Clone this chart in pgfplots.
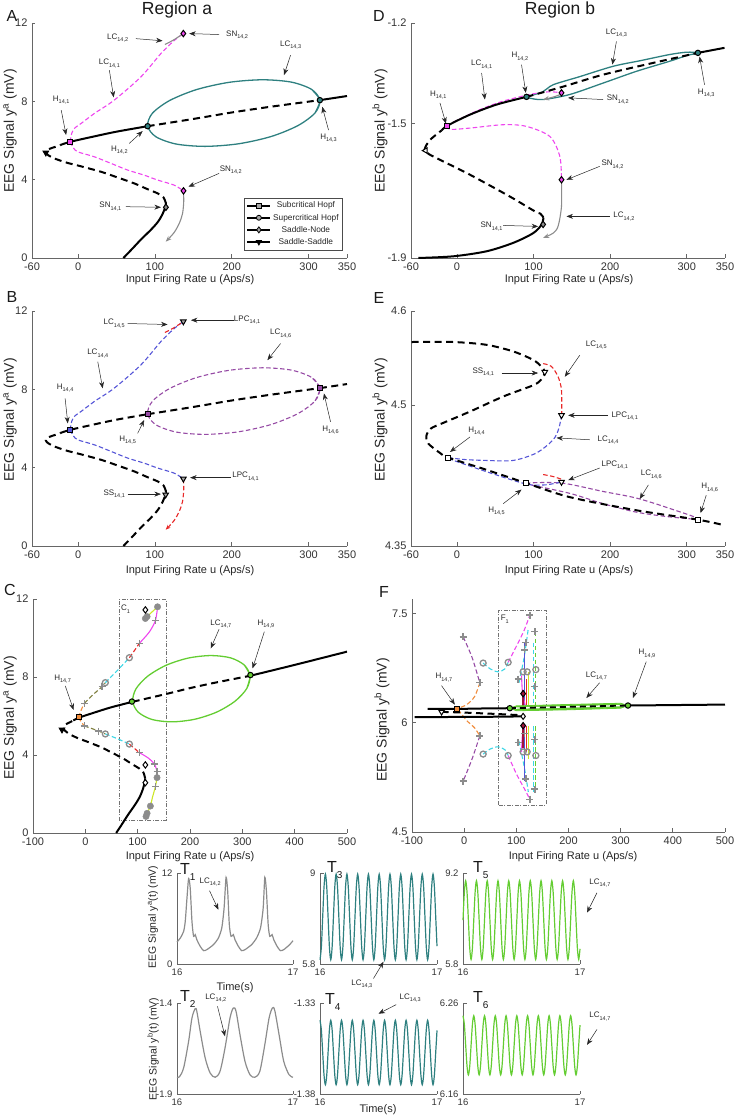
\documentclass[border=0pt]{standalone}
\usepackage{fontspec}
\setmainfont{Liberation Sans}
\usepackage{pgfplots}
\usepackage{pgfplotstable}
\pgfplotsset{compat=1.18}
\usetikzlibrary{arrows.meta}

\definecolor{mag}{RGB}{238,70,238}
\definecolor{tealc}{RGB}{46,128,128}
\definecolor{lgreen}{RGB}{100,205,50}
\definecolor{purp}{RGB}{150,75,165}
\definecolor{blu}{RGB}{85,85,215}
\definecolor{redc}{RGB}{232,40,40}
\definecolor{grayc}{RGB}{140,140,140}
\definecolor{orng}{RGB}{240,140,60}
\definecolor{cyanc}{RGB}{60,215,230}
\definecolor{olivec}{RGB}{125,125,60}
\definecolor{yelc}{RGB}{205,230,40}
\definecolor{dredc}{RGB}{160,20,60}

\tikzset{
  stab/.style={black, line width=2pt, smooth},
  unst/.style={black, line width=2pt, dash pattern=on 7pt off 4.5pt, smooth},
  cd/.style={line width=1.1pt, dash pattern=on 4.5pt off 2.5pt, smooth},
  cs/.style={line width=1.1pt, smooth},
  ann/.style={black!85, line width=0.5pt, -{Stealth[length=6.5pt, width=5pt]}},
  lab/.style={font=\fontsize{8}{9}\selectfont, text=black!85, inner sep=0.5pt},
  cbox/.style={black!55, line width=0.6pt, dash pattern=on 4pt off 1.5pt on 1pt off 1.5pt},
  big/.style={font=\fontsize{16}{16}\selectfont, text=black!90},
  xl/.style={font=\fontsize{11}{13}\selectfont, text=black!85},
  yl/.style={font=\fontsize{14}{15}\selectfont, text=black!85, rotate=90},
}

\newcommand{\lbl}[3]{\node[lab] at (axis cs:#1) {#2\raisebox{-2.4pt}{\fontsize{5.5}{6}\selectfont #3}};}
\newcommand{\arw}[2]{\draw[ann] (axis cs:#1) -- (axis cs:#2);}
\newcommand{\mk}[4]{\addplot[only marks, mark=#1, mark size=#2, mark options={solid, draw=black, fill=#3, line width=1pt}] coordinates {#4};}
\newcommand{\mkt}[3]{\addplot[only marks, mark=triangle*, mark size=3.2pt, mark options={solid, rotate=#1, draw=black, fill=#2, line width=1pt}] coordinates {#3};}
\newcommand{\gplus}[1]{\addplot[only marks, mark=+, mark size=3.5pt, grayc, line width=1.4pt] coordinates {#1};}
\newcommand{\gcirc}[1]{\addplot[only marks, mark=o, mark size=3pt, grayc, line width=1.3pt] coordinates {#1};}
\newcommand{\gdot}[1]{\addplot[only marks, mark=*, mark size=3.2pt, grayc] coordinates {#1};}

\pgfplotsset{
  mat/.style={scale only axis, anchor=south west, axis lines*=left,
    axis line style={black!60, line width=0.7pt, -},
    major tick style={black!60, line width=0.7pt}, tick align=inside, major tick length=3.5pt,
    tick label style={font=\fontsize{11}{12}\selectfont, text=black!80},
    xticklabel style={yshift=-1.5pt}, yticklabel style={xshift=-1pt}, clip=false},
  regL/.style={mat, xmin=-60, xmax=350, xtick={-60,0,100,200,300,350}, xticklabels={-60,0,100,200,300,350}},
  regC/.style={mat, xmin=-100, xmax=500, xtick={-100,0,100,200,300,400,500}, xticklabels={-100,0,100,200,300,400,500}},
  tpan/.style={mat, width=117pt, height=91pt, xmin=16, xmax=17, xtick={16,17}, xticklabels={16,17},
    tick label style={font=\fontsize{9.5}{10}\selectfont}},
}

% equilibrium branch, region a
\pgfplotstableread{
u y
59 0
70 0.45
82 0.95
95 1.45
104 1.85
110 2.25
113.5 2.6
114.3 2.8
}\eqAlow
\pgfplotstableread{
u y
114.3 2.8
111 3.1
103.5 3.3
90 3.52
73 3.81
50 4.13
30 4.4
0 4.72
-13.4 4.85
-30 5.07
-39 5.25
-42 5.4
-38 5.56
-30 5.67
-23 5.77
}\eqAmid
\pgfplotstableread{
u y
-23 5.77
-10.4 5.93
20 6.2
50 6.45
90.5 6.73
}\eqAupa
\pgfplotstableread{
u y
90.5 6.73
150 7.1
200 7.43
250 7.72
314.7 8.06
}\eqAun
\pgfplotstableread{
u y
314.7 8.06
350 8.27
}\eqAst
\pgfplotstableread{
u y
314.7 8.06
400 8.62
500 9.3
}\eqCst
% limit cycle loop between the two Hopf points
\pgfplotstableread{
u y
308.5 7.41
314.7 8.06
303.9 8.61
277.7 8.98
240.0 9.10
196.6 8.97
154.2 8.60
119.1 8.04
96.7 7.39
90.5 6.74
101.3 6.19
127.5 5.82
165.2 5.70
208.6 5.83
251.0 6.20
286.1 6.76
308.5 7.41
314.7 8.06
303.9 8.61
}\ellA
\pgfplotstableread{
u y
-10.4 5.93
-8 6.4
-4 6.65
3.9 6.87
21.2 7.38
47 8.06
81.8 9.25
107.8 10.44
125 11.1
137 11.46
}\lcup
\pgfplotstableread{
u y
-10.4 5.93
-6 5.62
-0.4 5.42
21 5.17
42.9 4.83
64.5 4.49
86 4.23
103.5 3.98
125 3.72
137 3.43
}\lclo
\pgfplotstableread{
u y
113 10.9
125 11.15
137 11.46
}\lctup
\pgfplotstableread{
u y
137 3.43
137.5 2.9
136 2.28
132 1.8
125 1.3
114 0.83
}\lctlo

% region b (panel D)
\pgfplotstableread{
u y
-50.4 -1.9
-4.8 -1.895
38.7 -1.88
73.4 -1.855
99.5 -1.826
110.4 -1.801
113 -1.78
}\eqDlow
\pgfplotstableread{
u y
113 -1.78
109 -1.768
101.7 -1.761
69.1 -1.717
17 -1.652
-20 -1.61
-37 -1.59
-42 -1.575
-35 -1.548
-20 -1.52
}\eqDmid
\pgfplotstableread{
u y
-20 -1.52
-12.6 -1.506
17 -1.473
51.8 -1.443
90.8 -1.42
}\eqDupa
\pgfplotstableread{
u y
90.8 -1.42
136.5 -1.391
190.8 -1.354
256 -1.319
314.6 -1.289
}\eqDun
\pgfplotstableread{
u y
314.6 -1.289
349.4 -1.274
}\eqDst

% region b (panel E)
\pgfplotstableread{
u y
-59.1 4.567
-4.8 4.567
38.7 4.564
73.4 4.557
99.5 4.548
110 4.541
114.7 4.535
110 4.527
99.5 4.521
60.4 4.509
17 4.493
-17.8 4.481
-34 4.475
-40 4.467
-37.4 4.459
-22.2 4.449
-11.3 4.444
38.7 4.431
90 4.417
147.3 4.402
234.2 4.388
314.6 4.378
349.4 4.372
}\eqE

% time series
\pgfplotstableread{
t y
16.000 2.9
16.029 3.43
16.057 4.3
16.071 5.6
16.086 8.7
16.100 11.25
16.114 10.0
16.129 5.6
16.143 3.65
16.157 3.87
16.171 3.2
16.200 2.33
16.229 1.76
16.257 1.89
16.314 2.55
16.357 3.43
16.386 4.75
16.406 7.38
16.423 11.43
16.437 9.58
16.451 5.19
16.466 3.65
16.486 3.87
16.500 3.2
16.529 2.33
16.557 1.76
16.586 1.89
16.643 2.55
16.686 3.43
16.720 4.75
16.743 7.38
16.757 11.43
16.771 9.58
16.786 5.19
16.800 3.65
16.820 3.87
16.834 3.2
16.863 2.33
16.891 1.76
16.920 1.89
16.971 2.55
17.000 3.08
}\tone
\pgfplotstableread{
t y
16.000 -1.808
16.020 -1.806
16.057 -1.757
16.100 -1.611
16.129 -1.482
16.157 -1.431
16.171 -1.446
16.200 -1.556
16.243 -1.702
16.286 -1.785
16.329 -1.808
16.371 -1.775
16.414 -1.647
16.457 -1.482
16.486 -1.427
16.509 -1.446
16.543 -1.574
16.586 -1.720
16.629 -1.794
16.671 -1.808
16.714 -1.775
16.757 -1.629
16.794 -1.482
16.823 -1.427
16.843 -1.442
16.880 -1.574
16.920 -1.720
16.966 -1.794
17.000 -1.808
}\ttwo
\pgfplotstableread{
t y3 y4 y5 y6
16.0000 5.95 -1.3395 7.44 6.246
16.0115 6.391 -1.3447 8.479 6.2365
16.0230 7.455 -1.3572 8.91 6.2135
16.0345 8.519 -1.3697 8.479 6.1905
16.0460 8.96 -1.3749 7.44 6.181
16.0575 8.519 -1.3697 6.401 6.1905
16.0690 7.455 -1.3572 5.97 6.2135
16.0805 6.391 -1.3447 6.401 6.2365
16.0920 5.95 -1.3395 7.44 6.246
16.1035 6.391 -1.3447 8.479 6.2365
16.1150 7.455 -1.3572 8.91 6.2135
16.1265 8.519 -1.3697 8.479 6.1905
16.1380 8.96 -1.3749 7.44 6.181
16.1495 8.519 -1.3697 6.401 6.1905
16.1610 7.455 -1.3572 5.97 6.2135
16.1725 6.391 -1.3447 6.401 6.2365
16.1840 5.95 -1.3395 7.44 6.246
16.1955 6.391 -1.3447 8.479 6.2365
16.2070 7.455 -1.3572 8.91 6.2135
16.2185 8.519 -1.3697 8.479 6.1905
16.2300 8.96 -1.3749 7.44 6.181
16.2415 8.519 -1.3697 6.401 6.1905
16.2530 7.455 -1.3572 5.97 6.2135
16.2645 6.391 -1.3447 6.401 6.2365
16.2760 5.95 -1.3395 7.44 6.246
16.2875 6.391 -1.3447 8.479 6.2365
16.2990 7.455 -1.3572 8.91 6.2135
16.3105 8.519 -1.3697 8.479 6.1905
16.3220 8.96 -1.3749 7.44 6.181
16.3335 8.519 -1.3697 6.401 6.1905
16.3450 7.455 -1.3572 5.97 6.2135
16.3565 6.391 -1.3447 6.401 6.2365
16.3680 5.95 -1.3395 7.44 6.246
16.3795 6.391 -1.3447 8.479 6.2365
16.3910 7.455 -1.3572 8.91 6.2135
16.4025 8.519 -1.3697 8.479 6.1905
16.4140 8.96 -1.3749 7.44 6.181
16.4255 8.519 -1.3697 6.401 6.1905
16.4370 7.455 -1.3572 5.97 6.2135
16.4485 6.391 -1.3447 6.401 6.2365
16.4600 5.95 -1.3395 7.44 6.246
16.4715 6.391 -1.3447 8.479 6.2365
16.4830 7.455 -1.3572 8.91 6.2135
16.4945 8.519 -1.3697 8.479 6.1905
16.5060 8.96 -1.3749 7.44 6.181
16.5175 8.519 -1.3697 6.401 6.1905
16.5290 7.455 -1.3572 5.97 6.2135
16.5405 6.391 -1.3447 6.401 6.2365
16.5520 5.95 -1.3395 7.44 6.246
16.5635 6.391 -1.3447 8.479 6.2365
16.5750 7.455 -1.3572 8.91 6.2135
16.5865 8.519 -1.3697 8.479 6.1905
16.5980 8.96 -1.3749 7.44 6.181
16.6095 8.519 -1.3697 6.401 6.1905
16.6210 7.455 -1.3572 5.97 6.2135
16.6325 6.391 -1.3447 6.401 6.2365
16.6440 5.95 -1.3395 7.44 6.246
16.6555 6.391 -1.3447 8.479 6.2365
16.6670 7.455 -1.3572 8.91 6.2135
16.6785 8.519 -1.3697 8.479 6.1905
16.6900 8.96 -1.3749 7.44 6.181
16.7015 8.519 -1.3697 6.401 6.1905
16.7130 7.455 -1.3572 5.97 6.2135
16.7245 6.391 -1.3447 6.401 6.2365
16.7360 5.95 -1.3395 7.44 6.246
16.7475 6.391 -1.3447 8.479 6.2365
16.7590 7.455 -1.3572 8.91 6.2135
16.7705 8.519 -1.3697 8.479 6.1905
16.7820 8.96 -1.3749 7.44 6.181
16.7935 8.519 -1.3697 6.401 6.1905
16.8050 7.455 -1.3572 5.97 6.2135
16.8165 6.391 -1.3447 6.401 6.2365
16.8280 5.95 -1.3395 7.44 6.246
16.8395 6.391 -1.3447 8.479 6.2365
16.8510 7.455 -1.3572 8.91 6.2135
16.8625 8.519 -1.3697 8.479 6.1905
16.8740 8.96 -1.3749 7.44 6.181
16.8855 8.519 -1.3697 6.401 6.1905
16.8970 7.455 -1.3572 5.97 6.2135
16.9085 6.391 -1.3447 6.401 6.2365
16.9200 5.95 -1.3395 7.44 6.246
16.9315 6.391 -1.3447 8.479 6.2365
16.9430 7.455 -1.3572 8.91 6.2135
16.9545 8.519 -1.3697 8.479 6.1905
16.9660 8.96 -1.3749 7.44 6.181
16.9775 8.519 -1.3697 6.401 6.1905
16.9890 7.455 -1.3572 5.97 6.2135
17.0000 6.425 -1.3451 6.368 6.2357
}\sines

\begin{document}
\begin{tikzpicture}
\useasboundingbox (0,0) rectangle (736pt,1119pt);

% ---------------- A
\begin{axis}[regL, at={(32pt,861pt)}, width=315pt, height=235pt, ymin=0, ymax=12,
  ytick={0,4,8,12}, yticklabels={0,4,8,12},
  legend style={at={(0.987,0.034)}, anchor=south east, font=\fontsize{8.3}{9}\selectfont,
    draw=black!70, line width=0.5pt, inner sep=2pt, row sep=0.6pt, text=black!85},
  legend image code/.code={\draw[mark repeat=2, mark phase=2, #1] plot coordinates {(0cm,0cm) (0.4cm,0cm) (0.8cm,0cm)};}]
\addlegendimage{black, line width=1.8pt, mark=square*, mark size=2.3pt, mark options={fill=black!35, draw=black, line width=0.8pt}}
\addlegendimage{black, line width=1.8pt, mark=*, mark size=2.5pt, mark options={fill=black!35, draw=black, line width=0.8pt}}
\addlegendimage{black, line width=1.8pt, mark=diamond*, mark size=3pt, mark options={fill=black!35, draw=black, line width=0.8pt}}
\addlegendimage{black, line width=1.8pt, mark=triangle*, mark size=3pt, mark options={rotate=180, fill=black, draw=black, line width=0.8pt}}
\legend{Subcritical Hopf, Supercritical Hopf, Saddle-Node, Saddle-Saddle}
\addplot[tealc, line width=1.3pt, smooth] table{\ellA};
\addplot[mag, cd] table{\lcup};
\addplot[mag, cd] table{\lclo};
\addplot[grayc, cs] table{\lctup};
\addplot[grayc, cs, -{Stealth[length=6pt, width=4.5pt]}] table{\lctlo};
\addplot[stab] table{\eqAlow};
\addplot[unst] table{\eqAmid};
\addplot[stab] table{\eqAupa};
\addplot[unst] table{\eqAun};
\addplot[stab] table{\eqAst};
\mk{square*}{2.4pt}{mag}{(-10.4,5.93)}
\mk{*}{2.7pt}{tealc}{(90.5,6.73) (314.7,8.06)}
\mk{diamond*}{3.2pt}{mag}{(137,11.46) (137.2,3.43)}
\mk{diamond*}{3.2pt}{black!45}{(114.3,2.59)}
\mkt{180}{black}{(-42,5.38)}
\lbl{51.5,11.22}{LC}{14,2} \arw{75.3,11.2}{110,11.09}
\lbl{207,11.38}{SN}{14,2} \arw{183.5,11.41}{144.6,11.46}
\lbl{40.7,9.93}{LC}{14,1} \arw{40.7,9.59}{46.3,8.2}
\lbl{-22,8.06}{H}{14,1} \arw{-22,7.55}{-15.6,6.28}
\lbl{53.7,5.51}{H}{14,2} \arw{66.6,5.85}{84,6.48}
\lbl{276.6,10.87}{LC}{14,3} \arw{276.6,10.36}{268,9.34}
\lbl{326,6.11}{H}{14,3} \arw{326,6.53}{317.8,7.72}
\lbl{198.7,4.49}{SN}{14,2} \arw{183.5,4.32}{143.7,3.64}
\lbl{42,2.62}{SN}{14,1} \arw{62.3,2.62}{107.8,2.59}
\end{axis}

% ---------------- D
\begin{axis}[regL, at={(411pt,861pt)}, width=314pt, height=235pt, ymin=-1.9, ymax=-1.2,
  ytick={-1.9,-1.5,-1.2}, yticklabels={-1.9,-1.5,-1.2}]
\addplot[tealc, line width=1.3pt, smooth] coordinates {(90.8,-1.42) (112,-1.405) (125.6,-1.384) (160,-1.36) (203.9,-1.329) (240,-1.312) (277.7,-1.294) (300,-1.287) (314.6,-1.289) (300,-1.297) (277.7,-1.314) (234.3,-1.344) (190.8,-1.379) (147.3,-1.413) (112.5,-1.428) (95,-1.424) (90.8,-1.42)};
\addplot[mag, cd] coordinates {(-12.6,-1.506) (0,-1.49) (30,-1.458) (60,-1.433) (95,-1.413) (120,-1.405) (136.5,-1.408)};
\addplot[mag, cd] coordinates {(-12.6,-1.506) (-9.6,-1.517) (17,-1.513) (60.4,-1.503) (90.8,-1.508) (121.3,-1.538) (134.3,-1.597) (136.5,-1.667)};
\addplot[grayc, cs, -{Stealth[length=6pt, width=4.5pt]}] coordinates {(136.5,-1.667) (136.5,-1.746) (132.1,-1.805) (125.6,-1.826) (112.5,-1.84)};
\addplot[grayc, cs, -{Stealth[length=6pt, width=4.5pt]}] coordinates {(136.5,-1.412) (125,-1.421) (112.5,-1.428)};
\addplot[stab] table{\eqDlow};
\addplot[unst] table{\eqDmid};
\addplot[stab] table{\eqDupa};
\addplot[unst] table{\eqDun};
\addplot[stab] table{\eqDst};
\mk{square*}{2.4pt}{mag}{(-12.6,-1.506)}
\mk{*}{2.7pt}{tealc}{(90.8,-1.42) (314.6,-1.289)}
\mk{diamond*}{3.2pt}{mag}{(136.5,-1.408) (136.5,-1.667)}
\mk{diamond*}{3.2pt}{black!45}{(112.5,-1.80)}
\mkt{90}{white}{(-41,-1.58)}
\lbl{208.2,-1.230}{LC}{14,3} \arw{208.2,-1.255}{203,-1.324}
\lbl{32.2,-1.324}{LC}{14,1} \arw{32.2,-1.349}{36.5,-1.428}
\lbl{82.1,-1.300}{H}{14,2} \arw{84.3,-1.324}{89.9,-1.408}
\lbl{-24.4,-1.414}{H}{14,1} \arw{-22.2,-1.438}{-14.3,-1.500}
\lbl{325.5,-1.408}{H}{14,3} \arw{323.3,-1.384}{316.8,-1.300}
\lbl{210,-1.428}{SN}{14,2} \arw{190.8,-1.428}{145.1,-1.423}
\lbl{203,-1.622}{SN}{14,2} \arw{186.4,-1.627}{143,-1.667}
\lbl{218,-1.776}{LC}{14,2} \arw{199.5,-1.776}{143,-1.776}
\lbl{45.2,-1.806}{SN}{14,1} \arw{60.4,-1.803}{106,-1.806}
\end{axis}

% ---------------- B
\begin{axis}[regL, at={(32pt,573pt)}, width=315pt, height=235pt, ymin=0, ymax=12,
  ytick={0,4,8,12}, yticklabels={0,4,8,12}]
\addplot[purp, cd] table{\ellA};
\addplot[blu, cd] table{\lcup};
\addplot[blu, cd] table{\lclo};
\addplot[redc, cd] table{\lctup};
\addplot[redc, cd, -{Stealth[length=5pt, width=4pt]}] table{\lctlo};
\addplot[unst] table{\eqAlow};
\addplot[unst] table{\eqAmid};
\addplot[unst] table{\eqAupa};
\addplot[unst] table{\eqAun};
\addplot[unst] table{\eqAst};
\mk{square*}{2.4pt}{blu}{(-10.4,5.93)}
\mk{square*}{2.4pt}{purp}{(90.5,6.73) (314.7,8.06)}
\mkt{180}{black!35}{(137,11.46) (137,3.43) (114,2.62)}
\lbl{47,11.36}{LC}{14,5} \arw{64.5,11.36}{116.5,11.31}
\lbl{220,11.53}{LPC}{14,1} \arw{203,11.53}{146.8,11.53}
\lbl{263.6,10.85}{LC}{14,6} \arw{263.6,10.34}{246.4,9.49}
\lbl{25.6,9.83}{LC}{14,4} \arw{25.6,9.41}{32,8.05}
\lbl{-16.9,8.05}{H}{14,4} \arw{-16.9,7.54}{-13.4,6.26}
\lbl{64.5,5.41}{H}{14,5} \arw{77.5,5.75}{86,6.43}
\lbl{328.6,5.92}{H}{14,6} \arw{328.6,6.34}{320,7.79}
\lbl{218,3.54}{LPC}{14,1} \arw{198.7,3.49}{145.8,3.49}
\lbl{47,2.65}{SS}{14,1} \arw{64.5,2.65}{107.8,2.65}
\end{axis}

% ---------------- E
\begin{axis}[regL, at={(411pt,573pt)}, width=314pt, height=235pt, ymin=4.35, ymax=4.6,
  ytick={4.35,4.5,4.6}, yticklabels={4.35,4.5,4.6}]
\addplot[purp, cd] coordinates {(90,4.417) (136.5,4.417) (190.8,4.408) (234.2,4.401) (277.7,4.390) (314.6,4.379) (277.7,4.381) (234.2,4.386) (190.8,4.395) (147.3,4.406) (90,4.416)};
\addplot[blu, cd] coordinates {(-11.3,4.444) (10,4.442) (38.7,4.441) (73.4,4.441) (103.9,4.449) (125.6,4.463) (133,4.475) (136.5,4.489)};
\addplot[blu, cd] coordinates {(-11.3,4.443) (38.7,4.429) (90,4.416) (115,4.415) (136.5,4.418)};
\addplot[redc, cd] coordinates {(112.6,4.544) (123.4,4.541) (132.1,4.530) (136.5,4.516) (136.8,4.491)};
\addplot[redc, cd] coordinates {(112.6,4.426) (125,4.424) (136.5,4.421)};
\addplot[unst] table{\eqE};
\mk{square*}{2.4pt}{white}{(-11.3,4.444) (90,4.417) (314.6,4.378)}
\mkt{180}{white}{(114.7,4.535) (136.5,4.489) (136.5,4.418)}
\lbl{182,4.564}{LC}{14,5} \arw{160.4,4.553}{140.8,4.530}
\lbl{34.3,4.535}{SS}{14,1} \arw{58.2,4.534}{106,4.534}
\lbl{219,4.488}{LPC}{14,1} \arw{197.3,4.489}{145.2,4.489}
\lbl{197.3,4.463}{LC}{14,4} \arw{173.4,4.463}{130,4.465}
\lbl{25.6,4.472}{H}{14,4} \arw{17,4.466}{-9.1,4.450}
\lbl{206,4.436}{LPC}{14,1} \arw{186.4,4.433}{145.2,4.420}
\lbl{253.8,4.426}{LC}{14,6} \arw{250,4.415}{238.6,4.400}
\lbl{329.9,4.412}{H}{14,6} \arw{325.5,4.404}{318.1,4.385}
\lbl{51.7,4.387}{H}{14,5} \arw{60.4,4.395}{84.3,4.410}
\end{axis}

% ---------------- C
\begin{axis}[regC, at={(33pt,286pt)}, width=314pt, height=234pt, ymin=0, ymax=12,
  ytick={0,4,8,12}, yticklabels={0,4,8,12}]
\draw[cbox] (axis cs:64.5,0.63) rectangle (axis cs:154,11.98);
\addplot[lgreen, line width=1.3pt, smooth] table{\ellA};
\addplot[orng, cd] coordinates {(-12.8,5.93) (-8,6.3) (-1.9,6.65)};
\addplot[olivec, cd] coordinates {(-1.9,6.65) (15,7.1) (31.9,7.5) (38.2,7.71)};
\addplot[cyanc, cd] coordinates {(38.2,7.71) (60,8.3) (84.1,8.99)};
\addplot[redc, cd] coordinates {(84.1,8.99) (95,9.4) (103.3,9.73)};
\addplot[mag, cs] coordinates {(103.3,9.73) (122,10.3) (134,10.9) (138,11.6)};
\addplot[yelc, cs] coordinates {(118,11.1) (128,11.35) (138,11.6)};
\addplot[orng, cd] coordinates {(-12.8,5.93) (-8,5.7) (-1.9,5.49)};
\addplot[olivec, cd] coordinates {(-1.9,5.49) (25.4,5.23) (38.2,5.08)};
\addplot[cyanc, cd] coordinates {(38.2,5.08) (60,4.85) (84.1,4.56)};
\addplot[redc, cd] coordinates {(84.1,4.56) (103.3,4.12)};
\addplot[mag, cs] coordinates {(103.3,4.12) (120,3.85) (131.9,3.54) (137,3.14) (137,2.84)};
\addplot[yelc, cs] coordinates {(137,2.84) (133.8,2.37) (128,1.8) (124.3,1.38) (118,1.01)};
\addplot[stab] table{\eqAlow};
\addplot[unst] table{\eqAmid};
\addplot[stab] table{\eqAupa};
\addplot[unst] table{\eqAun};
\addplot[stab] table{\eqCst};
\gplus{(-1.9,6.65) (31.9,7.5) (103.3,9.73) (134,10.9) (-1.9,5.49) (25.4,5.23) (103.3,4.12) (131.9,3.54) (137,3.14) (133.8,2.37)}
\gcirc{(38.2,7.71) (84.1,8.99) (38.2,5.08) (84.1,4.56)}
\gdot{(138,11.6) (114.7,11.0) (118,11.1) (137,2.84) (124.3,1.38) (118,1.01) (116,0.85)}
\mk{diamond*}{3.2pt}{white}{(114.7,11.44) (114.7,3.49) (114.7,2.58)}
\mk{square*}{2.4pt}{orng}{(-12.8,5.93)}
\mk{*}{2.7pt}{lgreen}{(89,6.74) (315.5,8.1)}
\mkt{180}{black}{(-44.6,5.3)}
\node[lab] at (axis cs:76.7,11.47) {C\raisebox{-2.4pt}{\fontsize{5.5}{6}\selectfont 1}};
\lbl{258.8,10.72}{LC}{14,7} \arw{255.6,10.45}{239.6,9.47}
\lbl{345,10.72}{H}{14,9} \arw{342,10.32}{319.5,8.44}
\lbl{-43.5,7.9}{H}{14,7} \arw{-38.3,7.54}{-22.4,6.31}
\end{axis}

% ---------------- F
\begin{axis}[regC, at={(412pt,287pt)}, width=313pt, height=233pt, ymin=4.5, ymax=7.7,
  ytick={4.5,6,7.5}, yticklabels={4.5,6,7.5}]
\draw[cbox] (axis cs:65.1,4.872) rectangle (axis cs:156.5,7.545);
\addplot[purp, cd] coordinates {(-1.9,7.18) (15,6.9) (30,6.55)};
\addplot[orng, cd] coordinates {(30,6.55) (20,6.36) (5,6.25) (-11.5,6.2)};
\addplot[orng, cd] coordinates {(-11.5,6.18) (5,6.03) (20,5.93) (30,5.82)};
\addplot[purp, cd] coordinates {(30,5.82) (15,5.5) (-1.9,5.2)};
\addplot[cyanc, cd] coordinates {(36.4,6.82) (50,6.74) (65,6.7) (78,6.74) (84.3,6.83)};
\addplot[cyanc, cd] coordinates {(36.4,5.57) (50,5.64) (65,5.67) (78,5.63) (84.3,5.55)};
\addplot[mag, cd] coordinates {(84.3,6.83) (100,7.05) (115,7.27) (125.9,7.48)};
\addplot[mag, cd] coordinates {(84.3,5.55) (100,5.3) (115,5.1) (125.9,4.95)};
\addplot[cyanc, cd] coordinates {(105,6.55) (115,6.9) (123,7.3)};
\addplot[cyanc, cd] coordinates {(105,5.75) (115,5.4) (123,5.05)};
\addplot[blu, cs] coordinates {(116,7.1) (116,6.25)};
\addplot[blu, cs] coordinates {(116,5.95) (116,5.2)};
\addplot[mag, cs] coordinates {(110,6.65) (112,6.4) (118,6.22)};
\addplot[mag, cs] coordinates {(110,5.6) (112,5.85) (118,5.97)};
\addplot[dredc, line width=2pt] coordinates {(113,6.45) (113,6.21)};
\addplot[dredc, line width=2pt] coordinates {(113,5.95) (113,5.65)};
\addplot[redc, cs] coordinates {(120,6.6) (120,6.22)};
\addplot[redc, cs] coordinates {(120,5.95) (120,5.6)};
\addplot[yelc, cs] coordinates {(124,6.7) (124,6.22)};
\addplot[yelc, cs] coordinates {(124,5.95) (124,5.5)};
\addplot[cyanc, cd] coordinates {(133,7.1) (133,6.22)};
\addplot[cyanc, cd] coordinates {(133,5.95) (133,5.05)};
\addplot[lgreen, cd] coordinates {(137,7.25) (137,6.22)};
\addplot[lgreen, cd] coordinates {(137,5.95) (137,5.05)};
\addplot[lgreen, line width=0.8pt, fill=lgreen] coordinates {(87.5,6.2) (100,6.232) (200,6.252) (300,6.268) (314,6.237) (300,6.2) (200,6.178) (100,6.165) (87.5,6.2)};
\addplot[white, line width=1.4pt] coordinates {(87.5,6.2) (314,6.237)};
\addplot[black, line width=1.8pt, dash pattern=on 6pt off 4pt] coordinates {(87.5,6.2) (314,6.237)};
\addplot[black, line width=2pt] coordinates {(-95,6.078) (0,6.08) (60,6.083) (113,6.088)};
\addplot[black, line width=2pt] coordinates {(-70,6.19) (-13.4,6.19) (40,6.197) (87.5,6.2)};
\addplot[black, line width=2pt, dash pattern=on 7pt off 4.5pt] coordinates {(-43.4,6.15) (0,6.14) (50,6.125) (106,6.105)};
\addplot[black, line width=2pt] coordinates {(314,6.237) (400,6.243) (500,6.25)};
\gcirc{(36.4,6.82) (84.3,6.83) (113,6.7) (120.7,6.7) (137.4,6.73) (36.4,5.57) (84.3,5.55) (113,5.6) (120.7,5.6) (137.4,5.55)}
\gplus{(-1.9,7.18) (30,6.55) (30,5.82) (-1.9,5.2) (125.9,7.48) (125.9,4.95) (135.4,7.25) (135.4,6.5) (103.4,6.6) (118.2,7.1) (116,7.0) (103.4,5.73) (135.4,5.77) (118.2,5.23) (135.4,5.09) (116,5.85)}
\mk{diamond*}{3.2pt}{dredc}{(113,6.40) (113,5.96)}
\mk{diamond*}{3pt}{white}{(113,6.088)}
\mk{square*}{2.4pt}{orng}{(-13.4,6.19)}
\mk{*}{2.7pt}{lgreen}{(87.5,6.2) (314,6.237)}
\mkt{180}{white}{(-43.3,6.15)}
\node[lab] at (axis cs:77.9,7.42) {F\raisebox{-2.4pt}{\fontsize{5.5}{6}\selectfont 1}};
\lbl{-38.9,6.62}{H}{14,7} \arw{-43.4,6.51}{-17.9,6.25}
\lbl{253.4,6.64}{LC}{14,7} \arw{259.7,6.55}{234.2,6.34}
\lbl{350.4,6.95}{H}{14,9} \arw{349.1,6.84}{323.5,6.34}
\end{axis}

% ---------------- T panels
\begin{axis}[tpan, at={(177pt,155pt)}, width=116pt, ymin=0, ymax=12, ytick={0,12}, yticklabels={0,12}]
\addplot[grayc, line width=1.2pt, smooth, tension=0.4] table{\tone};
\lbl{16.286,10.8}{LC}{14,2} \arw{16.28,9.67}{16.357,7.16}
\end{axis}
\begin{axis}[tpan, at={(320pt,155pt)}, ymin=5.8, ymax=9, ytick={5.8,9}, yticklabels={5.8,9}]
\addplot[tealc, line width=1.2pt, smooth] table[x=t, y=y3]{\sines};
\lbl{16.357,5.09}{LC}{14,3} \arw{16.457,5.29}{16.543,5.88}
\end{axis}
\begin{axis}[tpan, at={(463pt,155pt)}, ymin=5.8, ymax=9.2, ytick={5.8,9.2}, yticklabels={5.8,9.2}]
\addplot[lgreen, line width=1.2pt, smooth] table[x=t, y=y5]{\sines};
\lbl{17.17,8.83}{LC}{14,7} \arw{17.145,8.46}{17.06,7.72}
\end{axis}
\begin{axis}[tpan, at={(177pt,25pt)}, width=116pt, ymin=-1.9, ymax=-1.4, ytick={-1.9,-1.4}, yticklabels={-1.9,-1.4}]
\addplot[grayc, line width=1.2pt, smooth] table{\ttwo};
\lbl{16.334,-1.3725}{LC}{14,2} \arw{16.349,-1.418}{16.414,-1.583}
\end{axis}
\begin{axis}[tpan, at={(320pt,25pt)}, ymin=-1.38, ymax=-1.33, ytick={-1.38,-1.33}, yticklabels={-1.38,-1.33}]
\addplot[tealc, line width=1.2pt, smooth] table[x=t, y=y4]{\sines};
\lbl{16.771,-1.3273}{LC}{14,3} \arw{16.651,-1.3309}{16.5,-1.3359}
\end{axis}
\begin{axis}[tpan, at={(463pt,25pt)}, ymin=6.16, ymax=6.26, ytick={6.16,6.26}, yticklabels={6.16,6.26}]
\addplot[lgreen, line width=1.2pt, smooth] table[x=t, y=y6]{\sines};
\lbl{17.17,6.245}{LC}{14,7} \arw{17.145,6.231}{17.06,6.214}
\end{axis}

% ---------------- titles, panel letters, axis labels
\node[font=\fontsize{17.5}{18}\selectfont, text=black!90] at (177pt,1109pt) {Region a};
\node[font=\fontsize{17.5}{18}\selectfont, text=black!90] at (560pt,1109pt) {Region b};
\node[big] at (12pt,1103pt) {A};
\node[big] at (379pt,1103pt) {D};
\node[big] at (12pt,822pt) {B};
\node[big] at (379pt,821pt) {E};
\node[big] at (10pt,529pt) {C};
\node[big] at (384pt,527pt) {F};
\node[yl] at (10pt,988pt) {EEG Signal y\textsuperscript{a} (mV)};
\node[yl] at (380pt,988pt) {EEG Signal y\textsuperscript{b} (mV)};
\node[yl] at (10pt,699pt) {EEG Signal y\textsuperscript{a} (mV)};
\node[yl] at (380pt,699pt) {EEG Signal y\textsuperscript{b} (mV)};
\node[yl] at (10pt,401pt) {EEG Signal y\textsuperscript{a} (mV)};
\node[yl] at (382pt,399pt) {EEG Signal y\textsuperscript{b} (mV)};
\node[xl] at (190pt,839pt) {Input Firing Rate u (Aps/s)};
\node[xl] at (569pt,839pt) {Input Firing Rate u (Aps/s)};
\node[xl] at (190pt,548pt) {Input Firing Rate u (Aps/s)};
\node[xl] at (569pt,548pt) {Input Firing Rate u (Aps/s)};
\node[xl] at (190pt,262pt) {Input Firing Rate u (Aps/s)};
\node[xl] at (573pt,262pt) {Input Firing Rate u (Aps/s)};
\node[font=\fontsize{10.5}{12}\selectfont, text=black!85, rotate=90] at (153pt,202pt) {EEG Signal y\textsuperscript{a}(t) (mV)};
\node[font=\fontsize{10.5}{12}\selectfont, text=black!85, rotate=90] at (153pt,70pt) {EEG Signal y\textsuperscript{b}(t) (mV)};
\node[xl] at (235pt,131pt) {Time(s)};
\node[xl] at (378pt,9pt) {Time(s)};
\node[big, anchor=base west, inner sep=0pt] at (180pt,244pt) {T\raisebox{-6pt}{\fontsize{10}{10}\selectfont 1}};
\node[big, anchor=base west, inner sep=0pt] at (327pt,246pt) {T\raisebox{-6pt}{\fontsize{10}{10}\selectfont 3}};
\node[big, anchor=base west, inner sep=0pt] at (473pt,246pt) {T\raisebox{-6pt}{\fontsize{10}{10}\selectfont 5}};
\node[big, anchor=base west, inner sep=0pt] at (180pt,117pt) {T\raisebox{-6pt}{\fontsize{10}{10}\selectfont 2}};
\node[big, anchor=base west, inner sep=0pt] at (325pt,114pt) {T\raisebox{-6pt}{\fontsize{10}{10}\selectfont 4}};
\node[big, anchor=base west, inner sep=0pt] at (473pt,116pt) {T\raisebox{-6pt}{\fontsize{10}{10}\selectfont 6}};
\end{tikzpicture}
\end{document}
